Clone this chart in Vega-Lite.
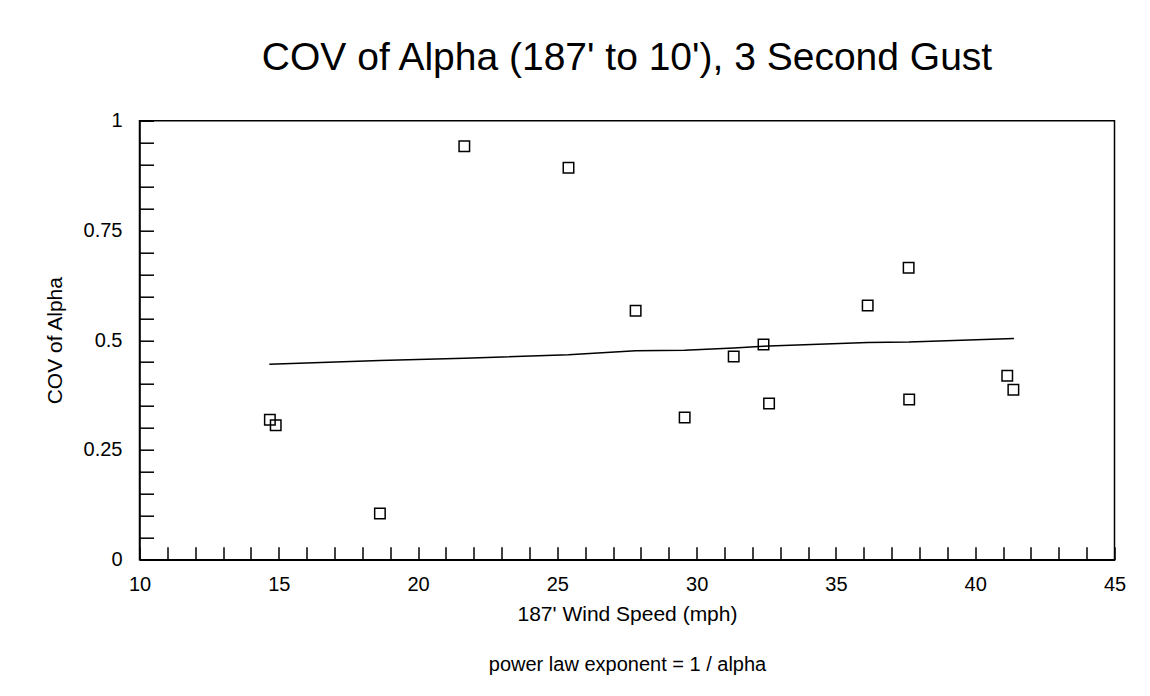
{
  "$schema": "https://vega.github.io/schema/vega-lite/v6.json",
  "autosize": {"type": "none"},
  "width": 975,
  "height": 439,
  "padding": {"left": 139.5, "top": 120.7, "right": 35.5, "bottom": 136.3},
  "background": "white",
  "config": {
    "font": "Liberation Sans",
    "view": {"stroke": "black", "strokeWidth": 1.5},
    "axis": {"labelFont": "Liberation Sans", "titleFont": "Liberation Sans", "labelColor": "black", "titleColor": "black", "titleFontWeight": "normal", "domainColor": "black", "tickColor": "black", "grid": false}
  },
  "title": {
    "text": "COV of Alpha (187' to 10'), 3 Second Gust",
    "font": "Liberation Sans",
    "fontSize": 39,
    "fontWeight": "normal",
    "color": "black",
    "anchor": "middle",
    "frame": "group",
    "baseline": "bottom",
    "offset": -6
  },
  "datasets": {
    "fit": [
      {"speed": 14.66, "cov": 0.445},
      {"speed": 18.63, "cov": 0.454},
      {"speed": 21.66, "cov": 0.459},
      {"speed": 25.40, "cov": 0.467},
      {"speed": 27.81, "cov": 0.476},
      {"speed": 29.57, "cov": 0.477},
      {"speed": 31.33, "cov": 0.482},
      {"speed": 32.40, "cov": 0.486},
      {"speed": 32.60, "cov": 0.487},
      {"speed": 36.14, "cov": 0.495},
      {"speed": 37.62, "cov": 0.496},
      {"speed": 41.39, "cov": 0.504}
    ],
    "obs": [
      {"speed": 14.68, "cov": 0.319},
      {"speed": 14.89, "cov": 0.306},
      {"speed": 18.63, "cov": 0.105},
      {"speed": 21.66, "cov": 0.942},
      {"speed": 25.40, "cov": 0.893},
      {"speed": 27.81, "cov": 0.567},
      {"speed": 29.57, "cov": 0.324},
      {"speed": 31.33, "cov": 0.463},
      {"speed": 32.40, "cov": 0.490},
      {"speed": 32.60, "cov": 0.356},
      {"speed": 36.14, "cov": 0.579},
      {"speed": 37.61, "cov": 0.665},
      {"speed": 37.63, "cov": 0.365},
      {"speed": 41.15, "cov": 0.419},
      {"speed": 41.37, "cov": 0.387}
    ]
  },
  "resolve": {"axis": {"x": "independent"}},
  "layer": [
    {
      "data": {"name": "fit"},
      "mark": {"type": "line", "color": "black", "strokeWidth": 1.5, "interpolate": "linear"},
      "encoding": {
        "x": {
          "field": "speed", "type": "quantitative",
          "scale": {"domain": [10, 45], "nice": false, "zero": false},
          "axis": {
            "orient": "bottom",
            "title": "187' Wind Speed (mph)",
            "titleFontSize": 21,
            "titlePadding": 9,
            "values": [10,11,12,13,14,15,16,17,18,19,20,21,22,23,24,25,26,27,28,29,30,31,32,33,34,35,36,37,38,39,40,41,42,43,44,45],
            "tickCount": 200,
            "format": "~g",
            "labelExpr": "round(datum.value) % 5 === 0 ? datum.label : ''",
            "labelFontSize": 20,
            "labelPadding": 28,
            "labelOverlap": false,
            "labelFlush": false,
            "labelBound": false,
            "ticks": true,
            "tickSize": -13,
            "tickWidth": 1.5,
            "domainWidth": 1.5,
            "encode": {"ticks": {"update": {"y2": {"signal": "round(datum.value) % 5 === 0 ? -14 : -9"}}}}
          }
        },
        "y": {
          "field": "cov", "type": "quantitative",
          "scale": {"domain": [0, 1], "nice": false, "zero": true},
          "axis": {
            "title": "COV of Alpha",
            "titleFontSize": 21,
            "titlePadding": 18,
            "values": [0,0.05,0.1,0.15,0.2,0.25,0.3,0.35,0.4,0.45,0.5,0.55,0.6,0.65,0.7,0.75,0.8,0.85,0.9,0.95,1],
            "tickCount": 200,
            "format": "~g",
            "labelExpr": "round(datum.value * 20) % 5 === 0 ? datum.label : ''",
            "labelFontSize": 20,
            "labelPadding": 31.5,
            "labelOverlap": false,
            "labelFlush": false,
            "labelBound": false,
            "ticks": true,
            "tickSize": -14,
            "tickWidth": 1.5,
            "domainWidth": 1.5,
            "encode": {"ticks": {"update": {"x2": {"signal": "round(datum.value * 20) % 5 === 0 ? 14 : 10"}}}}
          }
        }
      }
    },
    {
      "data": {"name": "obs"},
      "mark": {"type": "point", "shape": "square", "filled": false, "stroke": "black", "strokeWidth": 1.5, "size": 110, "opacity": 1},
      "encoding": {
        "x": {
          "field": "speed", "type": "quantitative",
          "scale": {"domain": [10, 45], "nice": false, "zero": false},
          "axis": {
            "orient": "bottom",
            "title": "power law exponent = 1 / alpha",
            "titleFontSize": 20,
            "titlePadding": 95,
            "labels": false,
            "ticks": false,
            "domain": false
          }
        },
        "y": {"field": "cov", "type": "quantitative"}
      }
    }
  ]
}
